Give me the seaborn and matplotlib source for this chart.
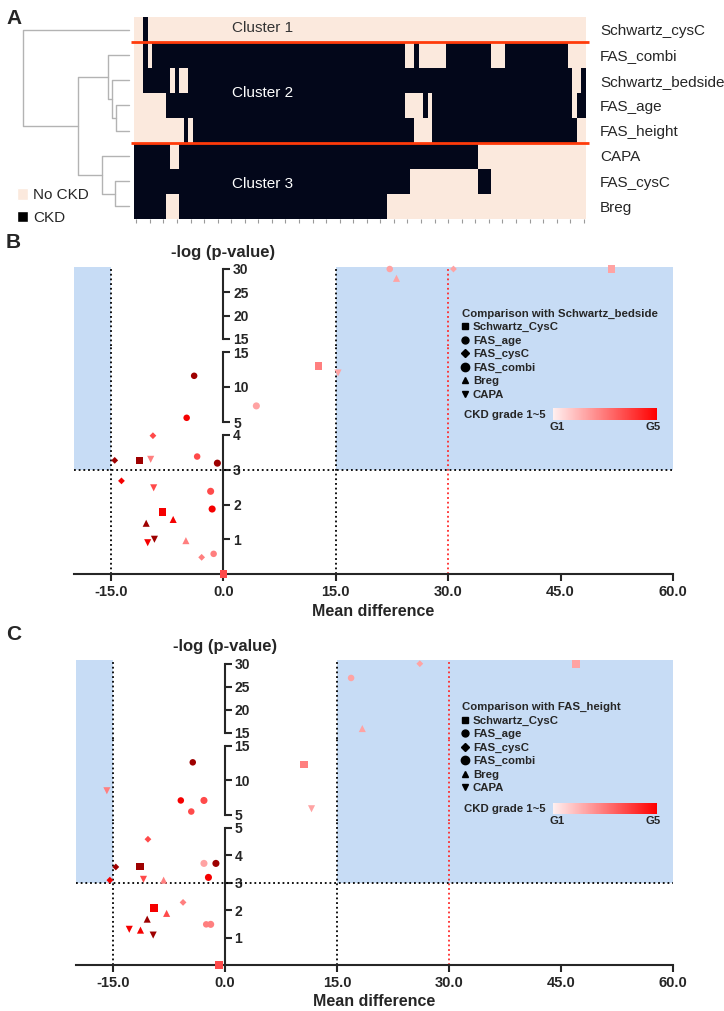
import numpy as np
import pandas as pd
import matplotlib
matplotlib.use('Agg')
import matplotlib.pyplot as plt
import seaborn as sns
from matplotlib.colors import ListedColormap, LinearSegmentedColormap, Normalize
from matplotlib.cm import ScalarMappable
from matplotlib.lines import Line2D
from matplotlib.patches import Patch

# ---------------- Panel A data ----------------
methods_a = ['Schwartz_cysC', 'FAS_combi', 'Schwartz_bedside', 'FAS_age',
             'FAS_height', 'CAPA', 'FAS_cysC', 'Breg']
n_patients = 100
# runs of CKD patients per method, [start, end) in patient order
ckd_runs = {
    'Schwartz_cysC': [(2, 3)],
    'FAS_combi': [(2, 3), (4, 60), (62, 63), (69, 79), (82, 96)],
    'Schwartz_bedside': [(2, 8), (9, 10), (12, 97), (99, 100)],
    'FAS_age': [(7, 60), (64, 65), (66, 97), (98, 100)],
    'FAS_height': [(11, 12), (13, 62), (66, 98)],
    'CAPA': [(0, 8), (10, 76)],
    'FAS_cysC': [(0, 61), (76, 79)],
    'Breg': [(0, 7), (10, 56)],
}
# dendrogram merges (child a, child b, height); leaves 0-7, new nodes numbered from 8
merges = [(3, 4, 13.6), (2, 8, 17.3), (1, 9, 21.4), (6, 7, 14.5),
          (5, 11, 27.4), (10, 12, 51.3), (0, 13, 106.0)]
cluster_names = ['Cluster 1', 'Cluster 2', 'Cluster 3']

# ---------------- Panel B / C data ----------------
method_order = ['Schwartz_CysC', 'FAS_age', 'FAS_cysC', 'FAS_combi', 'Breg', 'CAPA']

b_method = ['Schwartz_CysC'] * 5 + ['FAS_age'] * 5 + ['FAS_cysC'] * 5 + ['FAS_combi'] * 4 + ['Breg'] * 4 + ['CAPA'] * 5
b_grade = [1, 2, 3, 4, 5, 1, 2, 3, 4, 5, 1, 2, 3, 4, 5, 1, 3, 4, 5, 1, 2, 4, 5, 1, 2, 3, 4, 5]
b_md = [51.8, 12.7, 0.0, -8.1, -11.2,
        22.2, -1.3, -3.5, -4.9, -3.9,
        30.7, -2.9, -9.4, -13.6, -14.5,
        4.4, -1.7, -1.5, -0.8,
        23.1, -5.0, -6.7, -10.3,
        15.3, -9.7, -9.3, -10.1, -9.2]
b_logp = [30.0, 13.0, 0.0, 1.78, 3.27,
          30.0, 0.58, 3.38, 5.6, 11.6,
          30.0, 0.48, 3.98, 2.68, 3.27,
          7.3, 2.38, 1.87, 3.19,
          28.0, 0.96, 1.57, 1.46,
          12.0, 3.3, 2.48, 0.9, 1.0]

c_method = ['Schwartz_CysC'] * 5 + ['FAS_age'] * 5 + ['FAS_cysC'] * 5 + ['FAS_combi'] * 5 + ['Breg'] * 5 + ['CAPA'] * 5
c_grade = [1, 2, 3, 4, 5] * 6
c_md = [47.0, 10.6, -0.8, -9.5, -11.4,
        16.9, -2.5, -4.5, -5.9, -4.3,
        26.1, -5.6, -10.3, -15.4, -14.6,
        -2.8, -1.9, -2.8, -2.2, -1.2,
        18.4, -8.2, -7.8, -11.3, -10.4,
        11.6, -15.8, -10.9, -12.8, -9.6]
c_logp = [30.0, 12.3, 0.0, 2.08, 3.59,
          26.9, 1.48, 5.5, 7.1, 12.6,
          30.0, 2.28, 4.58, 3.09, 3.57,
          3.7, 1.48, 7.1, 3.19, 3.7,
          15.9, 3.09, 1.88, 1.27, 1.67,
          5.9, 8.5, 3.12, 1.3, 1.09]

x_ticks = [-15, 0, 15, 30, 45, 60]
MD_CUT = 15
P_CUT = 3
RED_CUT = 30

# ---------------- styles ----------------
PEACH = '#fbe9dd'
DARK = '#03071a'
RED_LINE = '#ff3a0a'
BLUE = '#c7dcf5'
grade_colors = {1: '#ffa3a3', 2: '#ff7f7f', 3: '#ff4a4a', 4: '#f50000', 5: '#9e0000'}
marker_map = {'Schwartz_CysC': 's', 'FAS_age': 'o', 'FAS_cysC': 'D',
              'FAS_combi': 'o', 'Breg': '^', 'CAPA': 'v'}
size_map = {'Schwartz_CysC': 30, 'FAS_age': 22, 'FAS_cysC': 12,
            'FAS_combi': 26, 'Breg': 26, 'CAPA': 26}
legend_ms = {'Schwartz_CysC': 4, 'FAS_age': 5, 'FAS_cysC': 4,
             'FAS_combi': 6, 'Breg': 4.5, 'CAPA': 4.5}
ckd_cmap = LinearSegmentedColormap.from_list('ckd', ['#fff0f0', '#ff0000'])

sns.set_style('white')
plt.rcParams['font.family'] = ['Liberation Sans', 'DejaVu Sans']

W, H = 724, 1011
fig = plt.figure(figsize=(W / 100, H / 100), dpi=100)


def px_axes(x0, y0, x1, y1):
    # axes placed by pixel box (top-left origin)
    return fig.add_axes([x0 / W, 1 - y1 / H, (x1 - x0) / W, (y1 - y0) / H])


# ================= Panel A =================
mat = np.zeros((len(methods_a), n_patients), dtype=int)
for i, m in enumerate(methods_a):
    for a, b in ckd_runs[m]:
        mat[i, a:b] = 1
df_a = pd.DataFrame(mat, index=methods_a)

ax_hm = px_axes(134, 17, 586, 219)
sns.heatmap(df_a, cmap=ListedColormap([PEACH, DARK]), vmin=0, vmax=1, cbar=False,
            xticklabels=False, yticklabels=True, ax=ax_hm)
ax_hm.yaxis.tick_right()
ax_hm.set_yticks(np.arange(len(methods_a)) + 0.5, labels=methods_a, rotation=0, fontsize=11)
ax_hm.tick_params(axis='y', length=0, pad=10, right=False)
ax_hm.set_xticks(np.arange(0, n_patients, 3) + 0.5)
ax_hm.tick_params(axis='x', bottom=True, length=3, width=0.8, color='#9a9a9a', labelbottom=False)
ax_hm.set_xlabel('')
ax_hm.set_ylabel('')
ax_hm.hlines([1, 5], -0.6, n_patients + 0.6, colors=RED_LINE, lw=2, clip_on=False)
ax_hm.text(28.5, 0.42, cluster_names[0], ha='center', va='center', fontsize=11, color='#333333')
ax_hm.text(28.5, 3.0, cluster_names[1], ha='center', va='center', fontsize=11, color='white')
ax_hm.text(28.5, 6.6, cluster_names[2], ha='center', va='center', fontsize=11, color='white')

# dendrogram
ax_d = px_axes(20, 17, 131, 219)
pos = {i: (i + 0.5, 0.0) for i in range(len(methods_a))}
for k, (a, b, h) in enumerate(merges):
    ya, ha_ = pos[a]
    yb, hb = pos[b]
    ax_d.plot([ha_, h, h, hb], [ya, ya, yb, yb], color='#b3b3b3', lw=1)
    pos[len(methods_a) + k] = ((ya + yb) / 2, h)
ax_d.set_ylim(len(methods_a), 0)
ax_d.set_xlim(109, -1.5)
ax_d.axis('off')

fig.legend(handles=[Patch(facecolor=PEACH), Patch(facecolor='black')],
           labels=['No CKD', 'CKD'], loc='upper left', bbox_to_anchor=(17 / W, 1 - 188 / H),
           frameon=False, fontsize=11, handlelength=0.75, handleheight=0.8,
           handletextpad=0.3, labelspacing=0.55, borderpad=0, borderaxespad=0)

fig.text(6 / W, 1 - 18 / H, 'A', fontsize=15, fontweight='bold', va='center')
fig.text(6 / W, 1 - 243 / H, 'B', fontsize=15, fontweight='bold', va='center')
fig.text(6 / W, 1 - 635 / H, 'C', fontsize=15, fontweight='bold', va='center')


# ================= Panels B and C =================
def draw_panel(df, segs, x_left, ref_name, legend_top, ckd_y, cbar_box, title_y, xlabel_y, low_break):
    x_right = 673
    df = df.copy()
    df['seg'] = np.where(df['logp'] > 15, 0, np.where(df['logp'] > low_break, 1, 2))
    for k, (lo, hi, p_lo, p_hi, top, bot, ticks) in enumerate(segs):
        ax = px_axes(x_left, top, x_right, bot)
        ax.set_facecolor('none')
        scale = (hi - lo) / (p_lo - p_hi)
        ymin = lo - (bot - p_lo) * scale
        ymax = hi + (p_hi - top) * scale
        ax.set_xlim(-20, 60)
        ax.set_ylim(ymin, ymax)
        last = k == len(segs) - 1
        frac = (P_CUT - ymin) / (ymax - ymin) if last else 0
        ax.axvspan(-20, -MD_CUT, ymin=frac, color=BLUE, lw=0, zorder=0)
        ax.axvspan(MD_CUT, 60, ymin=frac, color=BLUE, lw=0, zorder=0)
        for xv, col in [(-MD_CUT, 'black'), (MD_CUT, 'black'), (RED_CUT, '#ff2a2a')]:
            ax.axvline(xv, color=col, lw=1.3, ls=(0, (1, 1.6)), zorder=1)
        if last:
            ax.axhline(P_CUT, color='black', lw=1.3, ls=(0, (1, 1.6)), zorder=1)

        sub = df[df['seg'] == k]
        sns.scatterplot(data=sub, x='md', y='logp', hue='grade', palette=grade_colors,
                        style='method', style_order=method_order, markers=marker_map,
                        size='method', size_order=method_order, sizes=size_map,
                        linewidth=0, legend=False, ax=ax, zorder=3)
        for coll in ax.collections:
            coll.set_clip_on(False)

        for side in ['left', 'top', 'bottom']:
            ax.spines[side].set_visible(False)
        ax.spines['right'].set_position(('data', 0))
        ax.spines['right'].set_bounds(lo, hi)
        ax.spines['right'].set_linewidth(1.5)
        ax.yaxis.set_ticks_position('right')
        ax.set_yticks(ticks, labels=[str(t) for t in ticks], fontweight='bold', fontsize=10)
        ax.tick_params(axis='y', direction='out', length=5, width=1.5, pad=2, right=True, left=False)
        ax.set_xlabel('')
        ax.set_ylabel('')
        if last:
            ax.spines['bottom'].set_visible(True)
            ax.spines['bottom'].set_linewidth(1.5)
            ax.set_xticks(x_ticks, labels=[f'{t:.1f}' for t in x_ticks], fontweight='bold', fontsize=10.5)
            ax.tick_params(axis='x', direction='out', length=5, width=1.5, pad=3, bottom=True)
        else:
            ax.set_xticks([])

    zero_px = x_left + 20 * (x_right - x_left) / 80
    fig.text(zero_px / W, 1 - title_y / H, '-log (p-value)', ha='center', va='center',
             fontsize=12, fontweight='bold')
    fig.text((x_left + x_right) / 2 / W, 1 - xlabel_y / H, 'Mean difference', ha='center',
             va='center', fontsize=11.5, fontweight='bold')

    handles = [Line2D([], [], marker=marker_map[m], color='black', linestyle='',
                      markersize=legend_ms[m]) for m in method_order]
    fig.legend(handles, method_order, title=f'Comparison with {ref_name}', loc='upper left',
               bbox_to_anchor=(462 / W, 1 - legend_top / H), frameon=False,
               prop={'weight': 'bold', 'size': 8.2},
               title_fontproperties={'weight': 'bold', 'size': 8.2}, alignment='left',
               handlelength=0.6, handletextpad=0.35, labelspacing=0.3,
               borderpad=0, borderaxespad=0)
    fig.text(464 / W, 1 - ckd_y / H, 'CKD grade 1~5', fontsize=8.2, fontweight='bold', va='center')
    cax = px_axes(*cbar_box)
    cb = fig.colorbar(ScalarMappable(norm=Normalize(1, 5), cmap=ckd_cmap), cax=cax,
                      orientation='horizontal')
    cb.outline.set_visible(False)
    cb.set_ticks([1.15, 4.87], labels=['G1', 'G5'])
    cax.tick_params(length=0, pad=1, labelsize=8.2)
    for t in cax.get_xticklabels():
        t.set_fontweight('bold')


df_b = pd.DataFrame({'method': b_method, 'grade': b_grade, 'md': b_md, 'logp': b_logp})
df_c = pd.DataFrame({'method': c_method, 'grade': c_grade, 'md': c_md, 'logp': c_logp})

segs_b = [(15, 30, 339, 269, 266.7, 345.5, [15, 20, 25, 30]),
          (5, 15, 422, 352, 345.5, 428.5, [5, 10, 15]),
          (0, 4, 574, 435, 428.5, 574, [1, 2, 3, 4])]
segs_c = [(15, 30, 732.7, 663.7, 660, 739.2, [15, 20, 25, 30]),
          (5, 15, 815, 745.7, 739.2, 821.4, [5, 10, 15]),
          (0, 5, 965, 827.7, 821.4, 965, [1, 2, 3, 4, 5])]

draw_panel(df_b, segs_b, 73.5, 'Schwartz_bedside', 308.5, 415.3,
           (553, 408.3, 657, 420.3), 252, 612, 4.5)
draw_panel(df_c, segs_c, 75.5, 'FAS_height', 702, 809.3,
           (553, 802.7, 657, 814.3), 646, 1001, 5.0)

fig.savefig('out.png', dpi=100)
